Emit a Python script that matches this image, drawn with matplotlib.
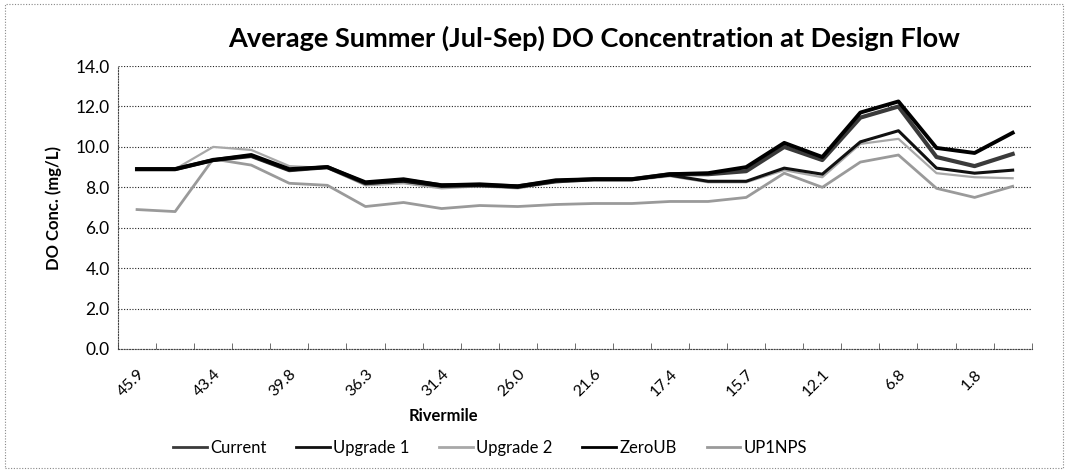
import numpy as np
import matplotlib
matplotlib.use("Agg")
from matplotlib import pyplot as plt
from matplotlib.patches import Rectangle

plt.rcParams['font.family'] = ['Lato', 'DejaVu Sans']

# rivermile labels shown on the axis (every other category)
rivermile_labels = ["45.9", "43.4", "39.8", "36.3", "31.4", "26.0",
                    "21.6", "17.4", "15.7", "12.1", "6.8", "1.8"]

zero_ub = [8.9, 8.9, 9.35, 9.6, 8.9, 9.0, 8.25, 8.4, 8.1, 8.15, 8.05, 8.35,
           8.4, 8.4, 8.65, 8.7, 9.0, 10.2, 9.5, 11.7, 12.25, 9.95, 9.7, 10.7]
current = [8.9, 8.9, 9.35, 9.55, 8.85, 9.0, 8.2, 8.35, 8.1, 8.1, 8.05, 8.3,
           8.4, 8.4, 8.65, 8.65, 8.8, 10.0, 9.35, 11.45, 12.0, 9.5, 9.05, 9.65]
upgrade1 = [8.9, 8.9, 9.35, 9.55, 8.85, 9.0, 8.2, 8.3, 8.05, 8.1, 8.0, 8.3,
            8.4, 8.4, 8.6, 8.3, 8.3, 8.95, 8.65, 10.25, 10.8, 8.95, 8.7, 8.85]
upgrade2 = [8.9, 8.9, 10.0, 9.85, 9.05, 8.95, 8.1, 8.2, 7.95, 8.05, 7.95, 8.25,
            8.35, 8.35, 8.55, 8.25, 8.25, 8.85, 8.5, 10.15, 10.4, 8.7, 8.5, 8.45]
up1nps = [6.9, 6.8, 9.4, 9.1, 8.2, 8.1, 7.05, 7.25, 6.95, 7.1, 7.05, 7.15,
          7.2, 7.2, 7.3, 7.3, 7.5, 8.7, 8.0, 9.25, 9.6, 7.95, 7.5, 8.05]

x = np.arange(len(current))

fig = plt.figure(figsize=(10.68, 4.72), dpi=100)
ax = fig.add_axes([0.1105, 0.2606, 0.8555, 0.5994])

ax.plot(x, current, color='#3a3a3a', lw=3.0, label='Current', zorder=4)
ax.plot(x, upgrade1, color='#111111', lw=2.2, label='Upgrade 1', zorder=5)
ax.plot(x, upgrade2, color='#a8a8a8', lw=1.6, label='Upgrade 2', zorder=3)
ax.plot(x, zero_ub, color='#000000', lw=2.8, label='ZeroUB', zorder=6)
ax.plot(x, up1nps, color='#9a9a9a', lw=2.0, label='UP1NPS', zorder=3)

ax.set_xlim(-0.5, len(x) - 0.5)
ax.set_ylim(0, 14)
ax.set_yticks(np.arange(0, 14.1, 2))
ax.set_yticklabels(["%.1f" % v for v in np.arange(0, 14.1, 2)], fontsize=12.5)
ax.set_xticks(x[::2])
ax.set_xticklabels(rivermile_labels, rotation=45, ha='right',
                   rotation_mode='anchor', fontsize=11.5)
ax.set_xticks(np.arange(-0.5, len(x), 1), minor=True)
ax.tick_params(axis='x', which='major', length=0, pad=13)
ax.tick_params(axis='x', which='minor', length=4, direction='in', color='#555555')
ax.tick_params(axis='y', length=0, pad=6)

ax.grid(axis='y', color='#222222', linestyle=(0, (1, 1.5)), linewidth=0.8)
for side in ['top', 'right']:
    ax.spines[side].set_visible(False)
for side in ['left', 'bottom']:
    ax.spines[side].set_linestyle((0, (1, 1.5)))
    ax.spines[side].set_color('#444444')
    ax.spines[side].set_linewidth(0.8)

ax.set_ylabel('DO Conc. (mg/L)', fontsize=12, fontweight='bold', labelpad=10)
fig.text(443 / 1068, 1 - 416 / 472, 'Rivermile', fontsize=12,
         fontweight='bold', ha='center', va='center')
fig.text(594 / 1068, 1 - 38 / 472,
         'Average Summer (Jul-Sep) DO Concentration at Design Flow',
         fontsize=19.5, fontweight='bold', ha='center', va='center')

leg = fig.legend(loc='center', bbox_to_anchor=(490 / 1068, 1 - 448 / 472), ncol=5,
                 frameon=False, fontsize=12, handlelength=2.0, handletextpad=0.2,
                 columnspacing=1.8)
for line in leg.get_lines():
    line.set_linewidth(2.0)

fig.patches.append(Rectangle((0.005, 0.008), 0.99, 0.984, transform=fig.transFigure,
                             fill=False, edgecolor='#888888', linestyle=(0, (1, 1.5)),
                             linewidth=0.8))

fig.savefig('out.png', dpi=100)
